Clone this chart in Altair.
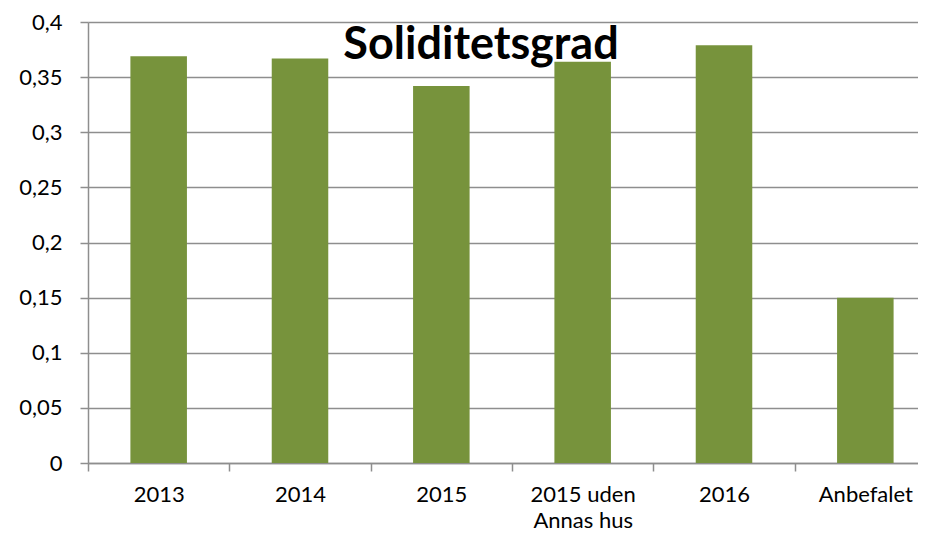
import altair as alt
import pandas as pd

categories = ["2013", "2014", "2015", "2015 uden Annas hus", "2016", "Anbefalet"]
values = [0.369, 0.367, 0.342, 0.364, 0.379, 0.150]
title_text = "Soliditetsgrad"

df = pd.DataFrame({"kategori": categories, "værdi": values})

FONT = "Lato"
GRAY = "#8e8e8e"

x_enc = alt.X(
    "kategori:N",
    sort=categories,
    title=None,
    scale=alt.Scale(paddingInner=0, paddingOuter=0, range=[0, 848]),
    axis=alt.Axis(
        labelAngle=0,
        tickBand="extent",
        tickSize=8,
        tickColor=GRAY,
        tickWidth=1.5,
        domainColor=GRAY,
        domainWidth=1.5,
        labelFont=FONT,
        labelFontSize=22,
        labelColor="#000000",
        labelPadding=13,
        labelLineHeight=26,
        labelExpr="datum.label == '2015 uden Annas hus' ? ['2015 uden', 'Annas hus'] : datum.label",
    ),
)

y_enc = alt.Y(
    "værdi:Q",
    title=None,
    scale=alt.Scale(domain=[0, 0.4], nice=False),
    axis=alt.Axis(
        values=[0, 0.05, 0.1, 0.15, 0.2, 0.25, 0.3, 0.35, 0.4],
        labelExpr="replace(format(datum.value, '.2~f'), '.', ',')",
        tickSize=8,
        tickColor=GRAY,
        tickWidth=1.5,
        domainColor=GRAY,
        domainWidth=1.5,
        gridColor=GRAY,
        gridWidth=1.5,
        labelFont=FONT,
        labelFontSize=22,
        labelColor="#000000",
        labelPadding=18,
    ),
)

bars = alt.Chart(df).mark_bar(color="#77933C", width={"band": 0.4}).encode(x=x_enc, y=y_enc)

title = alt.Chart(pd.DataFrame({"t": [title_text]})).mark_text(
    font=FONT, fontSize=45, fontWeight="bold", color="#000000",
    align="center", baseline="alphabetic",
).encode(text="t:N", x=alt.value(393), y=alt.value(37))

chart = alt.layer(bars, title).properties(
    width=830, height=441,
    autosize=alt.AutoSizeParams(type="none"),
    padding={"left": 80, "top": 14, "right": 0, "bottom": 69},
).configure_view(stroke=None)

chart.save("out.html", embed_options={"renderer": "svg", "actions": False})
